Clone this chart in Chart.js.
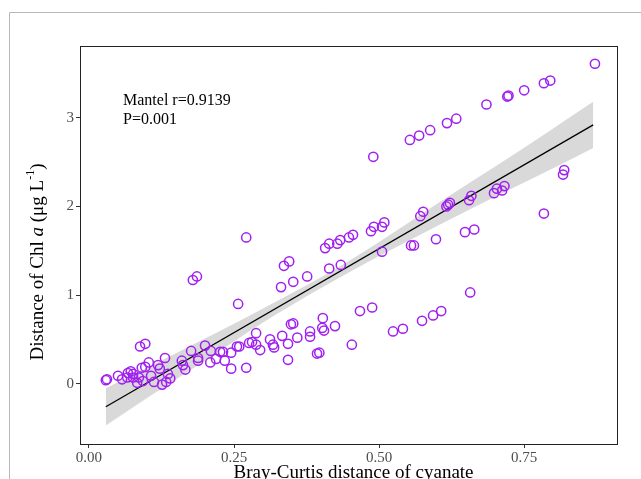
<!DOCTYPE html>
<html>
<head>
<meta charset="utf-8">
<script src="https://cdn.jsdelivr.net/npm/chart.js@4.4.1/dist/chart.umd.min.js"></script>
<style>
  html, body { margin: 0; padding: 0; background: #fff; }
  canvas { display: block; }
</style>
</head>
<body>
<canvas id="chart" width="641" height="479"></canvas>
<script>
// Bray-Curtis distance (x) vs Chl a distance (y)
const distX = [
  0.029, 0.031, 0.050, 0.057, 0.067, 0.072, 0.076, 0.066, 0.076, 0.083,
  0.088, 0.097, 0.091, 0.097, 0.103, 0.086, 0.093, 0.107, 0.112, 0.119,
  0.122, 0.131, 0.136, 0.133, 0.126, 0.140, 0.160, 0.162, 0.166, 0.176,
  0.188, 0.188, 0.200, 0.210, 0.209, 0.219, 0.226, 0.231, 0.234, 0.245,
  0.245, 0.255, 0.259, 0.271, 0.276, 0.281, 0.288, 0.288, 0.295, 0.312,
  0.317, 0.319, 0.333, 0.343, 0.343, 0.348, 0.352, 0.359, 0.381, 0.381,
  0.393, 0.397, 0.402, 0.405, 0.403, 0.424, 0.453, 0.467, 0.488, 0.524,
  0.541, 0.574, 0.593, 0.607, 0.657,
  0.179, 0.186, 0.257, 0.271, 0.331, 0.336, 0.345, 0.352, 0.376, 0.407,
  0.414, 0.414, 0.428, 0.433, 0.434, 0.448, 0.455, 0.486, 0.491, 0.505,
  0.509, 0.505, 0.555, 0.560, 0.571, 0.576, 0.598, 0.616, 0.619, 0.622,
  0.648, 0.664, 0.655, 0.659, 0.698, 0.703, 0.712, 0.716, 0.784, 0.817,
  0.819, 0.553, 0.569, 0.588, 0.617, 0.633, 0.685, 0.721, 0.723, 0.750,
  0.784, 0.795, 0.872, 0.490
];
const distY = [
  0.04, 0.05, 0.09, 0.05, 0.12, 0.14, 0.11, 0.07, 0.07, 0.01,
  0.42, 0.45, 0.18, 0.19, 0.24, 0.07, 0.03, 0.09, 0.02, 0.21,
  0.17, 0.29, 0.11, 0.02, -0.01, 0.06, 0.26, 0.21, 0.16, 0.37,
  0.29, 0.26, 0.43, 0.37, 0.24, 0.28, 0.36, 0.36, 0.26, 0.17,
  0.35, 0.42, 0.42, 0.18, 0.46, 0.47, 0.57, 0.44, 0.38, 0.50,
  0.44, 0.41, 0.54, 0.45, 0.27, 0.67, 0.68, 0.52, 0.59, 0.53,
  0.34, 0.35, 0.63, 0.60, 0.74, 0.65, 0.44, 0.82, 0.86, 0.59,
  0.62, 0.71, 0.77, 0.82, 1.03,
  1.17, 1.21, 0.90, 1.65, 1.09, 1.33, 1.38, 1.15, 1.21, 1.53,
  1.58, 1.30, 1.58, 1.62, 1.34, 1.65, 1.68, 1.72, 1.77, 1.77,
  1.82, 1.49, 1.56, 1.56, 1.89, 1.94, 1.63, 2.00, 2.02, 2.04,
  1.71, 1.74, 2.07, 2.12, 2.15, 2.20, 2.18, 2.23, 1.92, 2.36,
  2.41, 2.75, 2.80, 2.86, 2.94, 2.99, 3.15, 3.24, 3.25, 3.31,
  3.39, 3.42, 3.61, 2.56
];

// linear fit and its confidence band
const fitX = [0.029, 0.869];
const fitY = [-0.26, 2.92];
const bandX  = [0.029, 0.1, 0.2, 0.3, 0.4, 0.5, 0.6, 0.7, 0.8, 0.869];
const bandLo = [-0.47, -0.16, 0.26, 0.69, 1.08, 1.44, 1.78, 2.11, 2.43, 2.66];
const bandHi = [-0.05, 0.18, 0.51, 0.85, 1.20, 1.60, 2.03, 2.45, 2.88, 3.18];

const xTicks = [0, 0.25, 0.5, 0.75];
const yTicks = [0, 1, 2, 3];
const statLines = ['Mantel r=0.9139', 'P=0.001'];

const serif = "'Liberation Serif', 'Times New Roman', serif";
const pts = (xs, ys) => xs.map((x, i) => ({ x: x, y: ys[i] }));

// frame, box, annotation and axis titles
const decor = {
  id: 'decor',
  beforeDraw(chart) {
    const ctx = chart.ctx;
    ctx.save();
    ctx.fillStyle = '#fff';
    ctx.fillRect(0, 0, chart.width, chart.height);
    ctx.strokeStyle = '#b8b8b8';
    ctx.lineWidth = 1;
    ctx.beginPath();
    ctx.moveTo(9.5, chart.height);
    ctx.lineTo(9.5, 12.5);
    ctx.lineTo(chart.width, 12.5);
    ctx.stroke();
    ctx.restore();
  },
  afterDraw(chart) {
    const ctx = chart.ctx;
    const a = chart.chartArea;
    ctx.save();
    ctx.strokeStyle = '#222';
    ctx.lineWidth = 1;
    ctx.strokeRect(Math.round(a.left) + 0.5, Math.round(a.top) + 0.5,
      Math.round(a.right - a.left), Math.round(a.bottom - a.top));

    ctx.fillStyle = '#000';
    ctx.font = '16px ' + serif;
    ctx.textBaseline = 'middle';
    ctx.textAlign = 'left';
    statLines.forEach((t, i) => ctx.fillText(t, a.left + 43, a.top + 55 + i * 19));

    // x title
    ctx.font = '19px ' + serif;
    ctx.textAlign = 'center';
    ctx.fillText('Bray-Curtis distance of cyanate', (a.left + a.right) / 2 + 5, 473);

    // y title with italic a and superscript
    const parts = [
      { t: 'Distance of Chl ', f: '19px ' + serif, dy: 0 },
      { t: 'a', f: 'italic 19px ' + serif, dy: 0 },
      { t: ' (\u03bcg L', f: '19px ' + serif, dy: 0 },
      { t: '-1', f: '12px ' + serif, dy: -7 },
      { t: ')', f: '19px ' + serif, dy: 0 }
    ];
    let total = 0;
    parts.forEach(p => { ctx.font = p.f; p.w = ctx.measureText(p.t).width; total += p.w; });
    ctx.translate(38, 262);
    ctx.rotate(-Math.PI / 2);
    ctx.textAlign = 'left';
    let x0 = -total / 2;
    parts.forEach(p => { ctx.font = p.f; ctx.fillText(p.t, x0, p.dy); x0 += p.w; });
    ctx.restore();
  }
};

new Chart(document.getElementById('chart'), {
  type: 'scatter',
  data: {
    datasets: [
      {
        label: 'points',
        data: pts(distX, distY),
        order: 0,
        pointStyle: 'circle',
        pointRadius: 4.6,
        pointBorderWidth: 1.5,
        borderColor: '#a020f0',
        backgroundColor: 'rgba(0,0,0,0)'
      },
      {
        label: 'fit',
        data: pts(fitX, fitY),
        order: 1,
        showLine: true,
        pointRadius: 0,
        borderColor: '#000',
        borderWidth: 1.3
      },
      {
        label: 'lower',
        data: pts(bandX, bandLo),
        order: 2,
        showLine: true,
        pointRadius: 0,
        borderWidth: 0,
        borderColor: 'rgba(0,0,0,0)',
        tension: 0.4,
        cubicInterpolationMode: 'monotone'
      },
      {
        label: 'upper',
        data: pts(bandX, bandHi),
        order: 3,
        showLine: true,
        pointRadius: 0,
        borderWidth: 0,
        borderColor: 'rgba(0,0,0,0)',
        backgroundColor: '#d9d9d9',
        fill: '-1',
        tension: 0.4,
        cubicInterpolationMode: 'monotone'
      }
    ]
  },
  options: {
    responsive: false,
    animation: false,
    layout: { padding: { top: 46, right: 24, left: 0, bottom: 0 } },
    plugins: { legend: { display: false }, tooltip: { enabled: false } },
    scales: {
      x: {
        type: 'linear',
        min: -0.0155,
        max: 0.91,
        afterBuildTicks: s => { s.ticks = xTicks.map(v => ({ value: v })); },
        afterFit: s => { s.height = 35; },
        border: { display: false },
        grid: { drawOnChartArea: false, drawTicks: true, tickLength: 4, color: '#333' },
        ticks: {
          padding: 1,
          color: '#4d4d4d',
          font: { family: serif, size: 15 },
          callback: v => Number(v).toFixed(2)
        }
      },
      y: {
        type: 'linear',
        min: -0.68,
        max: 3.81,
        afterBuildTicks: s => { s.ticks = yTicks.map(v => ({ value: v })); },
        afterFit: s => { s.width = 80; },
        border: { display: false },
        grid: { drawOnChartArea: false, drawTicks: true, tickLength: 4, color: '#333' },
        ticks: {
          padding: 2,
          color: '#4d4d4d',
          font: { family: serif, size: 15 },
          callback: v => String(v)
        }
      }
    }
  },
  plugins: [decor]
});
</script>
</body>
</html>
